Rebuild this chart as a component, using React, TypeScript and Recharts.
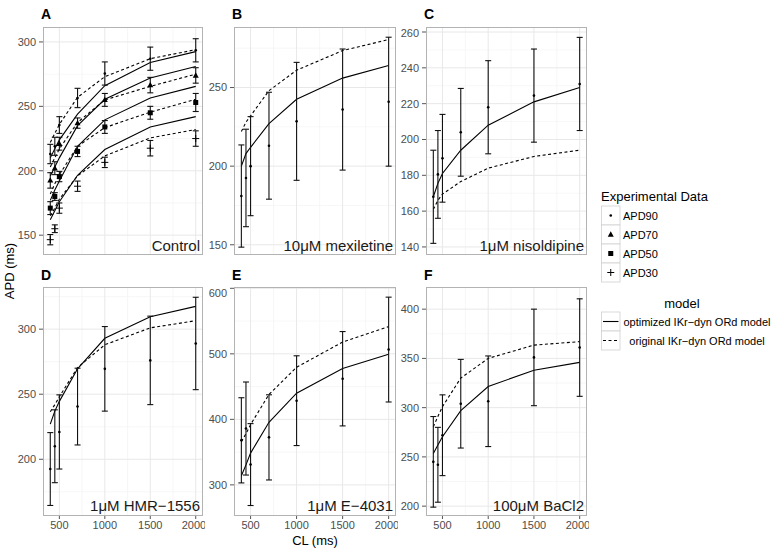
import React from "react";
import {
  ComposedChart,
  Line,
  Scatter,
  ErrorBar,
  XAxis,
  YAxis,
  ReferenceLine,
} from "recharts";

const CL = [400, 450, 500, 700, 1000, 1500, 2000];
const CL_TICKS = [500, 1000, 1500, 2000];
const CL_MINOR = [750, 1250, 1750];

// A: control (experimental mean / sd, model curves)
const ctrl90 = [213, 219, 235.5, 256.5, 275.5, 287, 293.5];
const ctrl90Sd = [7.5, 7, 6.5, 7.5, 9, 9, 9];
const ctrl70 = [192.5, 202, 221, 237, 255, 266.5, 274];
const ctrl70Sd = [6, 5, 5, 4, 5, 6, 6];
const ctrl50 = [171, 180, 195.5, 215, 234, 245, 253];
const ctrl50Sd = [5, 3, 4, 4, 5, 5, 7];
const ctrl30 = [146.5, 155, 171, 188, 206.5, 217.5, 225];
const ctrl30Sd = [4, 3, 4, 4, 4, 6, 6];
const ctrlOpt90 = [210, 217, 224, 244, 266, 284, 292.5];
const ctrlOpt70 = [196, 203, 210, 235, 255.5, 272, 281];
const ctrlOpt50 = [177, 185, 192, 219, 239.5, 256.5, 265.5];
const ctrlOpt30 = [162, 169, 176, 196.5, 216.5, 234, 242];
const ctrlOrig90 = [222, 229, 236, 257, 273, 287, 294];
const ctrlOrig70 = [203, 210, 217, 237.5, 255, 265.5, 275];
const ctrlOrig50 = [182, 190, 197, 219, 233.5, 245.5, 255.5];
const ctrlOrig30 = [165, 171, 178, 196, 211.5, 225.5, 232];

// B: 10uM mexiletine
const mexExp = [181, 192.5, 200, 213, 228.5, 236, 241];
const mexSd = [32.5, 31, 31.5, 34, 37.5, 38.5, 41];
const mexOpt = [200, 208, 212, 227, 242.5, 256, 264];
const mexOrig = [222, 228, 232, 248, 261, 273.5, 280.5];

// C: 1uM nisoldipine
const nisExp = [168, 180.5, 189.5, 204, 218, 224.5, 231];
const nisSd = [26, 24.5, 24.5, 24.5, 26, 26, 26];
const nisOpt = [168, 175.5, 181, 194, 208, 221, 229];
const nisOrig = [161, 166, 169.5, 176.5, 184, 190.5, 194];

// D: 1uM HMR-1556
const hmrExp = [192.5, 210, 221, 240.5, 269.5, 276, 289];
const hmrSd = [28, 28, 28.5, 29.5, 32.5, 34, 35.5];
const hmrOpt = [227, 237, 244.5, 269.5, 293, 309.5, 317.5];
const hmrOrig = [236.5, 242, 248, 270.5, 288, 301, 306.5];

// E: 1uM E-4031
const e4Exp = [368, 386, 331, 372.5, 428.5, 462, 506.5];
const e4Sd = [65, 71, 62.5, 65, 68.5, 72, 80];
const e4Opt = [314, 330.5, 348.5, 395.5, 440, 477.5, 499.5];
const e4Orig = [366, 378, 392, 438, 479.5, 518, 541.5];

// F: 100uM BaCl2
const baExp = [245, 242, 272, 304, 306.5, 351, 361];
const baSd = [46, 38, 41, 45, 46, 49, 49.5];
const baOpt = [253.5, 262, 270.5, 297, 321.5, 338, 346];
const baOrig = [280.5, 291, 301, 330, 350, 363.5, 367];

const rowsOf = (cols: Record<string, number[]>) =>
  CL.map((cl, i) => {
    const r: any = { cl };
    for (const k in cols) r[k] = cols[k][i];
    return r;
  });

const dotShape = (p: any) => <circle cx={p.cx} cy={p.cy} r={1.3} fill="#000" />;
const triShape = (p: any) => (
  <path d={`M${p.cx},${p.cy - 3.2}L${p.cx + 3},${p.cy + 2.2}L${p.cx - 3},${p.cy + 2.2}Z`} fill="#000" />
);
const sqShape = (p: any) => <rect x={p.cx - 2.5} y={p.cy - 2.5} width={5} height={5} fill="#000" />;
const plusShape = (p: any) => (
  <path d={`M${p.cx - 3.5},${p.cy}H${p.cx + 3.5}M${p.cx},${p.cy - 3.5}V${p.cy + 3.5}`} stroke="#000" strokeWidth={1} />
);

type Pts = { key: string; sd: string; shape: any };
type Ln = { key: string; dashed: boolean };

type PanelProps = {
  px: number;
  py: number;
  pw: number;
  ph: number;
  bottom?: boolean;
  yDomain: [number, number];
  yTicks: number[];
  yMinor: number[];
  data: any[];
  lines: Ln[];
  points: Pts[];
};

const AXIS_W = 40;
const FONT = "'Liberation Sans', Arial, sans-serif";

function Panel({ px, py, pw, ph, bottom, yDomain, yTicks, yMinor, data, lines, points }: PanelProps) {
  const xh = bottom ? 20 : 0;
  return (
    <div style={{ position: "absolute", left: px - AXIS_W, top: py }}>
      <ComposedChart
        width={pw + AXIS_W + 2}
        height={ph + xh}
        data={data}
        margin={{ top: 0, right: 2, bottom: 0, left: 0 }}
      >
        <XAxis
          dataKey="cl"
          type="number"
          domain={[320, 2080]}
          ticks={CL_TICKS}
          allowDataOverflow
          hide={!bottom}
          height={xh}
          axisLine={false}
          tickSize={3}
          tickLine={{ stroke: "#555" }}
          tickMargin={2}
          tick={{ fontSize: 11, fill: "#4d4d4d", fontFamily: FONT }}
        />
        <YAxis
          type="number"
          domain={yDomain}
          ticks={yTicks}
          allowDataOverflow
          width={AXIS_W}
          axisLine={false}
          tickSize={4}
          tickLine={{ stroke: "#555" }}
          tickMargin={3}
          tick={{ fontSize: 11, fill: "#4d4d4d", fontFamily: FONT }}
        />
        {CL_MINOR.map((v) => (
          <ReferenceLine key={"xm" + v} x={v} stroke="#f3f3f3" strokeWidth={0.7} />
        ))}
        {yMinor.map((v) => (
          <ReferenceLine key={"ym" + v} y={v} stroke="#f3f3f3" strokeWidth={0.7} />
        ))}
        {CL_TICKS.map((v) => (
          <ReferenceLine key={"xM" + v} x={v} stroke="#e8e8e8" strokeWidth={1} />
        ))}
        {yTicks.map((v) => (
          <ReferenceLine key={"yM" + v} y={v} stroke="#e8e8e8" strokeWidth={1} />
        ))}
        {lines.map((l) => (
          <Line
            key={l.key}
            dataKey={l.key}
            type="linear"
            stroke="#000"
            strokeWidth={1.1}
            strokeDasharray={l.dashed ? "3 2.5" : undefined}
            dot={false}
            activeDot={false}
            isAnimationActive={false}
          />
        ))}
        {points.map((p) => (
          <Scatter key={p.key} dataKey={p.key} shape={p.shape} isAnimationActive={false}>
            <ErrorBar dataKey={p.sd} direction="y" width={3} stroke="#111" strokeWidth={1.1} isAnimationActive={false} />
          </Scatter>
        ))}
      </ComposedChart>
      <div
        style={{
          position: "absolute",
          left: AXIS_W,
          top: 0,
          width: pw,
          height: ph,
          boxSizing: "border-box",
          border: "1px solid #b3b3b3",
          pointerEvents: "none",
        }}
      />
    </div>
  );
}

const twoLines: Ln[] = [
  { key: "opt", dashed: false },
  { key: "orig", dashed: true },
];
const onePts: Pts[] = [{ key: "exp", sd: "sd", shape: dotShape }];

const panelText = [
  { t: "A", x: 41, y: 19 },
  { t: "B", x: 232, y: 19 },
  { t: "C", x: 424, y: 19 },
  { t: "D", x: 41, y: 280 },
  { t: "E", x: 232, y: 280 },
  { t: "F", x: 424, y: 280 },
];
const facetText = [
  { t: "Control", x: 200, y: 251 },
  { t: "10μM mexiletine", x: 393, y: 251 },
  { t: "1μM nisoldipine", x: 584, y: 251 },
  { t: "1μM HMR−1556", x: 200, y: 511 },
  { t: "1μM E−4031", x: 393, y: 511 },
  { t: "100μM BaCl2", x: 584, y: 511 },
];
const expLabels = ["APD90", "APD70", "APD50", "APD30"];
const modelLabels = ["optimized IKr−dyn ORd model", "original IKr−dyn ORd model"];

export default function App() {
  const dataA = rowsOf({
    e90: ctrl90, s90: ctrl90Sd, e70: ctrl70, s70: ctrl70Sd,
    e50: ctrl50, s50: ctrl50Sd, e30: ctrl30, s30: ctrl30Sd,
    o90: ctrlOpt90, o70: ctrlOpt70, o50: ctrlOpt50, o30: ctrlOpt30,
    d90: ctrlOrig90, d70: ctrlOrig70, d50: ctrlOrig50, d30: ctrlOrig30,
  });
  const linesA: Ln[] = ["90", "70", "50", "30"].flatMap((k) => [
    { key: "o" + k, dashed: false },
    { key: "d" + k, dashed: true },
  ]);
  const ptsA: Pts[] = [
    { key: "e90", sd: "s90", shape: dotShape },
    { key: "e70", sd: "s70", shape: triShape },
    { key: "e50", sd: "s50", shape: sqShape },
    { key: "e30", sd: "s30", shape: plusShape },
  ];
  const shapes = [dotShape, triShape, sqShape, plusShape];

  return (
    <div
      style={{
        position: "absolute",
        left: 0,
        top: 0,
        width: 773,
        height: 551,
        background: "#fff",
        fontFamily: FONT,
      }}
    >
      <Panel px={43} py={27} pw={160} ph={228} yDomain={[134.6, 311.6]} yTicks={[150, 200, 250, 300]}
        yMinor={[175, 225, 275]} data={dataA} lines={linesA} points={ptsA} />
      <Panel px={234} py={27} pw={162} ph={228} yDomain={[143.5, 288.5]} yTicks={[150, 200, 250]}
        yMinor={[175, 225, 275]} data={rowsOf({ exp: mexExp, sd: mexSd, opt: mexOpt, orig: mexOrig })}
        lines={twoLines} points={onePts} />
      <Panel px={426} py={27} pw={161} ph={228} yDomain={[135.5, 262.8]} yTicks={[140, 160, 180, 200, 220, 240, 260]}
        yMinor={[150, 170, 190, 210, 230, 250]} data={rowsOf({ exp: nisExp, sd: nisSd, opt: nisOpt, orig: nisOrig })}
        lines={twoLines} points={onePts} />
      <Panel px={43} py={287} pw={160} ph={229} bottom yDomain={[156.4, 332.4]} yTicks={[200, 250, 300]}
        yMinor={[175, 225, 275, 325]} data={rowsOf({ exp: hmrExp, sd: hmrSd, opt: hmrOpt, orig: hmrOrig })}
        lines={twoLines} points={onePts} />
      <Panel px={234} py={287} pw={162} ph={229} bottom yDomain={[252.5, 602]} yTicks={[300, 400, 500, 600]}
        yMinor={[350, 450, 550]} data={rowsOf({ exp: e4Exp, sd: e4Sd, opt: e4Opt, orig: e4Orig })}
        lines={twoLines} points={onePts} />
      <Panel px={426} py={287} pw={161} ph={229} bottom yDomain={[190, 422.5]} yTicks={[200, 250, 300, 350, 400]}
        yMinor={[225, 275, 325, 375]} data={rowsOf({ exp: baExp, sd: baSd, opt: baOpt, orig: baOrig })}
        lines={twoLines} points={onePts} />

      <svg width={773} height={551} style={{ position: "absolute", left: 0, top: 0, pointerEvents: "none" }}
        fontFamily={FONT}>
        {panelText.map((p) => (
          <text key={p.t} x={p.x} y={p.y} fontSize={14} fontWeight="bold" fill="#000">{p.t}</text>
        ))}
        {facetText.map((f) => (
          <text key={f.t} x={f.x} y={f.y} fontSize={15} textAnchor="end" fill="#1a1a1a">{f.t}</text>
        ))}
        <text x={315} y={545} fontSize={13} textAnchor="middle" fill="#000">CL (ms)</text>
        <text x={14} y={271} fontSize={13} textAnchor="middle" fill="#000" transform="rotate(-90 14 271)">APD (ms)</text>

        <text x={601} y={201} fontSize={13} fill="#000">Experimental Data</text>
        {expLabels.map((l, i) => {
          const top = 206 + i * 19;
          const Shape = shapes[i];
          return (
            <g key={l}>
              <rect x={601.5} y={top} width={18.5} height={19} fill="#fff" stroke="#d0d0d0" strokeWidth={0.8} />
              {Shape({ cx: 610.75, cy: top + 9.5 })}
              <text x={623} y={top + 13.5} fontSize={11} fill="#000">{l}</text>
            </g>
          );
        })}

        <text x={682} y={308} fontSize={13} textAnchor="middle" fill="#000">model</text>
        {modelLabels.map((l, i) => {
          const top = 312 + i * 19;
          return (
            <g key={l}>
              <rect x={601.5} y={top} width={18.5} height={19} fill="#fff" stroke="#d0d0d0" strokeWidth={0.8} />
              <line x1={603} x2={618.5} y1={top + 9.5} y2={top + 9.5} stroke="#000" strokeWidth={1.1}
                strokeDasharray={i === 1 ? "3 2.5" : undefined} />
              <text x={697} y={top + 13.5} fontSize={11} textAnchor="middle" fill="#000">{l}</text>
            </g>
          );
        })}
      </svg>
    </div>
  );
}
